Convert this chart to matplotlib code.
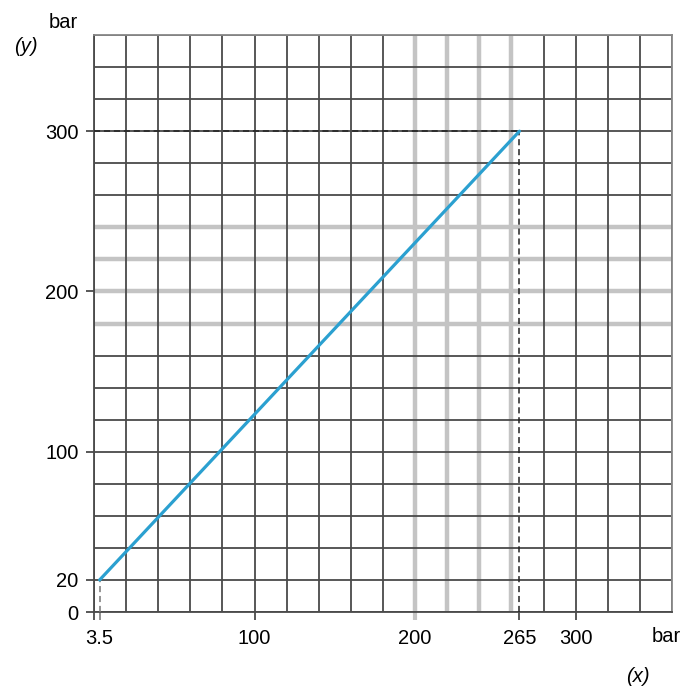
import matplotlib
matplotlib.use("Agg")
import matplotlib.pyplot as plt
import numpy as np

plt.rcParams['font.family'] = ['Liberation Sans', 'DejaVu Sans']

# data
x_points = [3.5, 265]
y_points = [20, 300]
x_tick_vals = [0, 3.5, 100, 200, 265, 300]
x_tick_labels = ['', '3.5', '100', '200', '265', '300']
y_tick_vals = [0, 20, 100, 200, 300]
y_tick_labels = ['0', '20', '100', '200', '300']
grid_vals = list(range(0, 361, 20))
x_highlight = [200, 220, 240, 260]
y_highlight = [180, 200, 220, 240]

fig = plt.figure(figsize=(7, 7), dpi=100)
ax = fig.add_axes([94/700, 88/700, 578/700, 577/700])
ax.set_xlim(0, 360)
ax.set_ylim(0, 360)

dark = '#4a4a4a'
light = '#c4c4c4'
for v in grid_vals:
    if v in x_highlight:
        ax.axvline(v, color=light, lw=3.2, zorder=1)
    else:
        ax.axvline(v, color=dark, lw=1.3, zorder=2)
    if v in y_highlight:
        ax.axhline(v, color=light, lw=3.2, zorder=1)
    else:
        ax.axhline(v, color=dark, lw=1.3, zorder=2)

for s in ax.spines.values():
    s.set_color(dark)
    s.set_linewidth(1.3)
ax.spines['top'].set_color('#888888')
ax.spines['right'].set_color('#888888')

# main line
ax.plot(x_points, y_points, color='#2ba0d0', lw=2.3, zorder=4, solid_capstyle='round')

# dashed guides
ax.plot([0, x_points[1]], [y_points[1], y_points[1]], color='#222222', lw=1.1, ls=(0, (4, 2.5)), zorder=3)
ax.plot([x_points[1], x_points[1]], [0, y_points[1]], color='#222222', lw=1.1, ls=(0, (4, 2.5)), zorder=3)
ax.plot([x_points[0], x_points[0]], [0, y_points[0]], color='#777777', lw=1.1, ls=(0, (4, 2.5)), zorder=3)

ax.set_xticks(x_tick_vals)
ax.set_xticklabels(x_tick_labels)
ax.set_yticks(y_tick_vals)
ax.set_yticklabels(y_tick_labels)
ax.tick_params(axis='both', length=6, width=1.3, color=dark, labelsize=14.5)
ax.tick_params(axis='x', pad=6)
ax.tick_params(axis='y', pad=5)
for t, v in zip(ax.xaxis.get_major_ticks(), x_tick_vals):
    if v in x_highlight:
        t.tick1line.set_markeredgecolor(light)
        t.tick1line.set_markeredgewidth(3)
    if v in (3.5,):
        t.tick1line.set_markeredgecolor('#888888')

fig.text(63/700, 1 - 23/700, 'bar', fontsize=14.5, ha='center', va='center')
fig.text(26/700, 1 - 47/700, '(y)', fontsize=14.5, ha='center', va='center', style='italic')
fig.text(666/700, 1 - 636/700, 'bar', fontsize=14.5, ha='center', va='center')
fig.text(638/700, 1 - 677/700, '(x)', fontsize=14.5, ha='center', va='center', style='italic')

fig.savefig('out.png', dpi=100, facecolor='white')
